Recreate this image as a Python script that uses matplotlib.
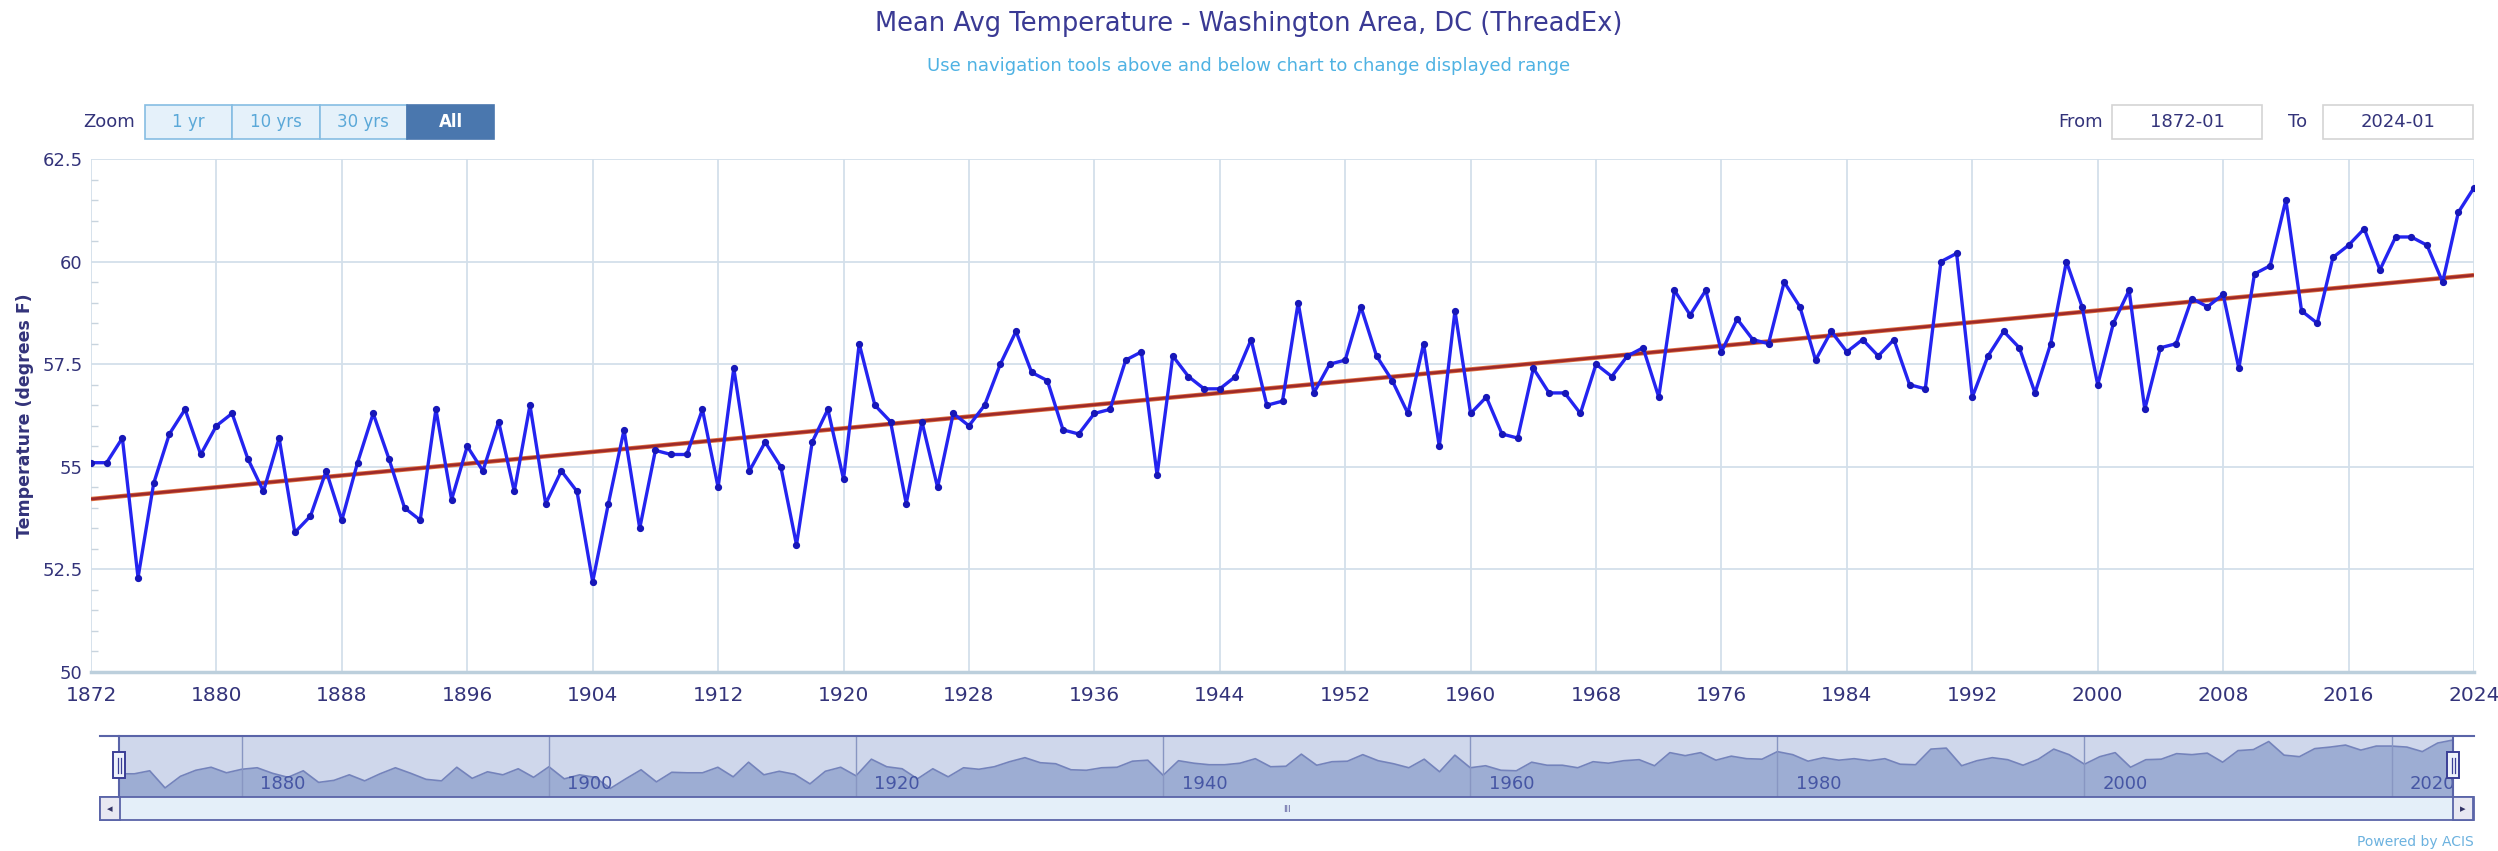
import numpy as np
import matplotlib
matplotlib.use("Agg")
import matplotlib.pyplot as plt
from matplotlib.patches import Rectangle
from matplotlib.lines import Line2D
from matplotlib.ticker import MultipleLocator

# annual mean temperature, Washington area DC (ThreadEx)
years = list(range(1872, 2025))
temps = [
    55.1, 55.1, 55.7, 52.3, 54.6, 55.8, 56.4, 55.3, 56.0, 56.3,   # 1872-1881
    55.2, 54.4, 55.7, 53.4, 53.8, 54.9, 53.7, 55.1, 56.3, 55.2,   # 1882-1891
    54.0, 53.7, 56.4, 54.2, 55.5, 54.9, 56.1, 54.4, 56.5, 54.1,   # 1892-1901
    54.9, 54.4, 52.2, 54.1, 55.9, 53.5, 55.4, 55.3, 55.3, 56.4,   # 1902-1911
    54.5, 57.4, 54.9, 55.6, 55.0, 53.1, 55.6, 56.4, 54.7, 58.0,   # 1912-1921
    56.5, 56.1, 54.1, 56.1, 54.5, 56.3, 56.0, 56.5, 57.5, 58.3,   # 1922-1931
    57.3, 57.1, 55.9, 55.8, 56.3, 56.4, 57.6, 57.8, 54.8, 57.7,   # 1932-1941
    57.2, 56.9, 56.9, 57.2, 58.1, 56.5, 56.6, 59.0, 56.8, 57.5,   # 1942-1951
    57.6, 58.9, 57.7, 57.1, 56.3, 58.0, 55.5, 58.8, 56.3, 56.7,   # 1952-1961
    55.8, 55.7, 57.4, 56.8, 56.8, 56.3, 57.5, 57.2, 57.7, 57.9,   # 1962-1971
    56.7, 59.3, 58.7, 59.3, 57.8, 58.6, 58.1, 58.0, 59.5, 58.9,   # 1972-1981
    57.6, 58.3, 57.8, 58.1, 57.7, 58.1, 57.0, 56.9, 60.0, 60.2,   # 1982-1991
    56.7, 57.7, 58.3, 57.9, 56.8, 58.0, 60.0, 58.9, 57.0, 58.5,   # 1992-2001
    59.3, 56.4, 57.9, 58.0, 59.1, 58.9, 59.2, 57.4, 59.7, 59.9,   # 2002-2011
    61.5, 58.8, 58.5, 60.1, 60.4, 60.8, 59.8, 60.6, 60.6, 60.4,   # 2012-2021
    59.5, 61.2, 61.8,                                             # 2022-2024
]
year_ticks = list(range(1872, 2025, 8))
nav_ticks = list(range(1880, 2021, 20))
zoom_buttons = ["1 yr", "10 yrs", "30 yrs", "All"]
date_from = "1872-01"
date_to = "2024-01"

W, H = 2498, 851
navy = "#33337a"


def fx(px):
    return px / W


def fy(py):
    return 1 - py / H


fig = plt.figure(figsize=(W / 100, H / 100), dpi=100)
fig.patch.set_facecolor("white")

# titles
fig.text(0.5, fy(24), "Mean Avg Temperature - Washington Area, DC (ThreadEx)",
         ha="center", va="center", fontsize=18.5, color="#3a3a94")
fig.text(0.5, fy(66), "Use navigation tools above and below chart to change displayed range",
         ha="center", va="center", fontsize=13, color="#4fb2e3")

# main chart
ax = fig.add_axes([fx(91), fy(672), fx(2474) - fx(91), fy(159) - fy(672)])
ax.plot(years, temps, color="#2424f0", lw=2.4, marker="o", ms=4.2,
        mfc="#1717b8", mec="#1717b8", zorder=4)

# linear trend of the annual values
slope, icpt = np.polyfit(years, temps, 1)
yr = np.array([years[0], years[-1]])
ax.plot(yr, slope * yr + icpt, color="#e07040", lw=3.2, zorder=3, solid_capstyle="butt")
ax.plot(yr, slope * yr + icpt, color="#9e2a2a", lw=2.0, zorder=3, solid_capstyle="butt")

ax.set_xlim(years[0], years[-1])
ax.set_ylim(50, 62.5)
ax.set_xticks(year_ticks)
ax.set_yticks([50, 52.5, 55, 57.5, 60, 62.5])
ax.set_yticklabels(["50", "52.5", "55", "57.5", "60", "62.5"])
ax.yaxis.set_minor_locator(MultipleLocator(0.5))
ax.grid(True, which="major", color="#d3dfea", lw=1.3)
ax.tick_params(axis="x", length=0, pad=10, labelsize=14.5, labelcolor=navy)
ax.tick_params(axis="y", which="major", length=0, pad=6, labelsize=13, labelcolor=navy)
ax.tick_params(axis="y", which="minor", length=5, direction="in", color="#c8d4de", width=1)
for s in ["top", "right", "left"]:
    ax.spines[s].set_visible(False)
ax.spines["bottom"].set_color("#bccfdc")
ax.spines["bottom"].set_linewidth(2.5)
ax.set_ylabel("Temperature (degrees F)", fontsize=12.5, fontweight="bold", color=navy, labelpad=6)

# zoom buttons
fig.text(fx(135), fy(122), "Zoom", ha="right", va="center", fontsize=13, color=navy)
bx0, bw, by0, bh = 145, 87.3, 105, 34
for i, lab in enumerate(zoom_buttons):
    sel = lab == "All"
    fig.patches.append(Rectangle((fx(bx0 + i * bw), fy(by0 + bh)), bw / W, bh / H,
                                 transform=fig.transFigure,
                                 facecolor="#4a77ae" if sel else "#e5f1fa",
                                 edgecolor="#4a77ae" if sel else "#86bde3", lw=1.2))
    fig.text(fx(bx0 + (i + 0.5) * bw), fy(by0 + bh / 2), lab, ha="center", va="center",
             fontsize=12, color="white" if sel else "#5aa8d8",
             fontweight="bold" if sel else "normal")

# from / to boxes
fig.text(fx(2103), fy(122), "From", ha="right", va="center", fontsize=13, color=navy)
fig.text(fx(2307), fy(122), "To", ha="right", va="center", fontsize=13, color=navy)
for x0, txt in [(2112, date_from), (2323, date_to)]:
    fig.patches.append(Rectangle((fx(x0), fy(139)), 150 / W, 34 / H, transform=fig.transFigure,
                                 facecolor="white", edgecolor="#d4d4d4", lw=1.2))
    fig.text(fx(x0 + 75), fy(122), txt, ha="center", va="center", fontsize=13, color=navy)

# navigator
nav = fig.add_axes([fx(119), fy(797), fx(2453) - fx(119), fy(736) - fy(797)])
nav.set_facecolor("#cfd7eb")
nav.fill_between(years, temps, 40, color="#9dadd3", lw=0)
nav.plot(years, temps, color="#7483bb", lw=1.2)
nav.set_xlim(years[0], years[-1])
nav.set_ylim(50.5, 62.6)
nav.set_xticks([])
nav.set_yticks([])
for t in nav_ticks:
    nav.axvline(t, color="#8896c2", lw=1)
    nav.text(t + 1.2, 51.2, str(t), ha="left", va="bottom", fontsize=13, color="#4656a4")
for s in nav.spines.values():
    s.set_visible(False)

# navigator outline, handles and scrollbar
fig.add_artist(Line2D([fx(100), fx(2474)], [fy(736), fy(736)], color="#5a64a8", lw=1.5))
fig.add_artist(Line2D([fx(119), fx(119)], [fy(736), fy(797)], color="#5a64a8", lw=1.5))
fig.add_artist(Line2D([fx(2453), fx(2453)], [fy(736), fy(797)], color="#5a64a8", lw=1.5))
for hx in [119, 2453]:
    fig.patches.append(Rectangle((fx(hx - 6), fy(778)), 12 / W, 26 / H, transform=fig.transFigure,
                                 facecolor="#eef2fb", edgecolor="#3b3f96", lw=1.4, zorder=5))
    fig.add_artist(Line2D([fx(hx - 1.5)] * 2, [fy(758), fy(773)], color="#3b3f96", lw=0.9, zorder=6))
    fig.add_artist(Line2D([fx(hx + 1.5)] * 2, [fy(758), fy(773)], color="#3b3f96", lw=0.9, zorder=6))

fig.patches.append(Rectangle((fx(100), fy(820)), 2374 / W, 23 / H, transform=fig.transFigure,
                             facecolor="#e4eff9", edgecolor="#5a64a8", lw=1.3))
for ax0 in [100, 2453]:
    fig.patches.append(Rectangle((fx(ax0), fy(820)), 20 / W, 23 / H, transform=fig.transFigure,
                                 facecolor="#e8e8f2", edgecolor="#5a64a8", lw=1.3))
fig.text(fx(110), fy(809), "◂", ha="center", va="center", fontsize=8, color="#333366")
fig.text(fx(2463), fy(809), "▸", ha="center", va="center", fontsize=8, color="#333366")
fig.text(fx(1287), fy(809), "III", ha="center", va="center", fontsize=6, color="#555599")

fig.text(fx(2474), fy(842), "Powered by ACIS", ha="right", va="center", fontsize=10, color="#6cb2df")

fig.savefig("out.png", dpi=100, facecolor="white")
